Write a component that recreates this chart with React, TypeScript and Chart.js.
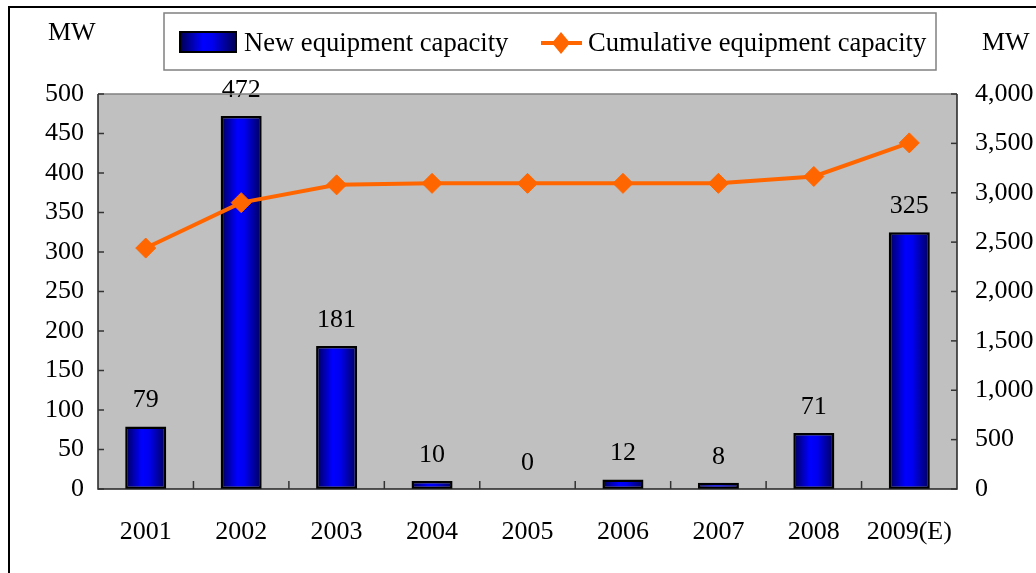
import React, { useEffect, useRef } from "react";
import { Chart, registerables } from "chart.js";

Chart.register(...registerables);

const categories = ["2001", "2002", "2003", "2004", "2005", "2006", "2007", "2008", "2009(E)"];
const newCapacity = [79, 472, 181, 10, 0, 12, 8, 71, 325];
const cumulativeCapacity = [2440, 2900, 3080, 3095, 3095, 3095, 3095, 3165, 3505];
const leftTicks = [0, 50, 100, 150, 200, 250, 300, 350, 400, 450, 500];
const rightTicks = [0, 500, 1000, 1500, 2000, 2500, 3000, 3500, 4000];
const seriesNames = ["New equipment capacity", "Cumulative equipment capacity"];
const unitLabel = "MW";

const FONT = "'Liberation Serif', 'Times New Roman', serif";
const TICK_SIZE = 26;
const W = 1036;
const H = 573;
const AREA = { left: 98, right: 957, top: 94, bottom: 489 };
const BAR_FRACTION = 0.43;

function barGradient(ctx: CanvasRenderingContext2D, x0: number, x1: number) {
  const g = ctx.createLinearGradient(x0, 0, x1, 0);
  g.addColorStop(0, "#000058");
  g.addColorStop(0.4, "#0000ff");
  g.addColorStop(0.58, "#0000f0");
  g.addColorStop(1, "#00005a");
  return g;
}

const decorPlugin = {
  id: "decor",
  beforeDraw(chart: any) {
    const { ctx, chartArea } = chart;
    ctx.save();
    ctx.fillStyle = "#ffffff";
    ctx.fillRect(0, 0, W, H);
    ctx.strokeStyle = "#000000";
    ctx.lineWidth = 2;
    ctx.beginPath();
    ctx.moveTo(9, H + 5);
    ctx.lineTo(9, 7);
    ctx.lineTo(W + 5, 7);
    ctx.stroke();
    ctx.fillStyle = "#c0c0c0";
    ctx.fillRect(chartArea.left, chartArea.top, chartArea.right - chartArea.left, chartArea.bottom - chartArea.top);
    ctx.restore();
  },
  afterDraw(chart: any) {
    const { ctx, chartArea, scales } = chart;
    const { left, right, top, bottom } = chartArea;
    ctx.save();
    ctx.lineWidth = 1.5;
    ctx.strokeStyle = "#808080";
    ctx.beginPath();
    ctx.moveTo(left, top);
    ctx.lineTo(right, top);
    ctx.stroke();
    ctx.strokeStyle = "#222222";
    ctx.beginPath();
    ctx.moveTo(left, top);
    ctx.lineTo(left, bottom);
    ctx.lineTo(right, bottom);
    ctx.lineTo(right, top);
    ctx.stroke();
    ctx.strokeStyle = "#333333";
    ctx.lineWidth = 1.5;
    for (const v of leftTicks) {
      const y = scales.y.getPixelForValue(v);
      ctx.beginPath();
      ctx.moveTo(left, y);
      ctx.lineTo(left + 6, y);
      ctx.stroke();
    }
    for (const v of rightTicks) {
      const y = scales.y1.getPixelForValue(v);
      ctx.beginPath();
      ctx.moveTo(right, y);
      ctx.lineTo(right - 6, y);
      ctx.stroke();
    }
    const step = (right - left) / categories.length;
    for (let i = 1; i < categories.length; i++) {
      const x = left + step * i;
      ctx.beginPath();
      ctx.moveTo(x, bottom);
      ctx.lineTo(x, bottom - 8);
      ctx.stroke();
    }
    ctx.fillStyle = "#000000";
    ctx.font = `26px ${FONT}`;
    ctx.textAlign = "left";
    ctx.textBaseline = "middle";
    ctx.fillText(unitLabel, 48, 33);
    ctx.fillText(unitLabel, 982, 43);
    const lx = 164, ly = 13, lw = 772, lh = 57;
    ctx.fillStyle = "#ffffff";
    ctx.fillRect(lx, ly, lw, lh);
    ctx.strokeStyle = "#808080";
    ctx.lineWidth = 1.5;
    ctx.strokeRect(lx, ly, lw, lh);
    ctx.fillStyle = "#000000";
    ctx.fillRect(179, 31, 58, 22);
    ctx.fillStyle = barGradient(ctx, 181, 235);
    ctx.fillRect(181, 33, 54, 18);
    ctx.fillStyle = "#000000";
    ctx.font = `26.6px ${FONT}`;
    ctx.textBaseline = "middle";
    ctx.fillText(seriesNames[0], 244, 44);
    ctx.strokeStyle = "#ff6600";
    ctx.lineWidth = 4;
    ctx.beginPath();
    ctx.moveTo(541, 43);
    ctx.lineTo(582, 43);
    ctx.stroke();
    ctx.fillStyle = "#ff6600";
    ctx.beginPath();
    ctx.moveTo(561, 32);
    ctx.lineTo(570, 43);
    ctx.lineTo(561, 54);
    ctx.lineTo(552, 43);
    ctx.closePath();
    ctx.fill();
    ctx.fillStyle = "#000000";
    ctx.fillText(seriesNames[1], 588, 44);
    ctx.restore();
  },
  afterDatasetsDraw(chart: any) {
    const { ctx } = chart;
    const meta = chart.getDatasetMeta(0);
    ctx.save();
    ctx.fillStyle = "#000000";
    ctx.font = `${TICK_SIZE}px ${FONT}`;
    ctx.textAlign = "center";
    ctx.textBaseline = "middle";
    meta.data.forEach((el: any, i: number) => {
      ctx.fillText(String(newCapacity[i]), el.x, el.y - 26);
    });
    ctx.restore();
  },
};

export default function App() {
  const ref = useRef<HTMLCanvasElement>(null);
  useEffect(() => {
    if (!ref.current) return;
    const chart = new Chart(ref.current, {
      type: "bar",
      data: {
        labels: categories,
        datasets: [
          {
            type: "bar",
            label: seriesNames[0],
            data: newCapacity,
            yAxisID: "y",
            order: 1,
            borderColor: "#000000",
            borderWidth: 2.5,
            borderSkipped: false,
            barPercentage: BAR_FRACTION,
            categoryPercentage: 1,
            backgroundColor: (c: any) => {
              const chart = c.chart;
              const area = chart.chartArea;
              if (!area) return "#0000ff";
              const step = (area.right - area.left) / categories.length;
              const cx = area.left + step * (c.dataIndex + 0.5);
              const half = (step * BAR_FRACTION) / 2;
              return barGradient(chart.ctx, cx - half, cx + half);
            },
          } as any,
          {
            type: "line",
            label: seriesNames[1],
            data: cumulativeCapacity,
            yAxisID: "y1",
            order: 0,
            borderColor: "#ff6600",
            backgroundColor: "#ff6600",
            borderWidth: 4,
            pointStyle: "rectRot",
            pointRadius: 10,
            pointBorderWidth: 1,
            pointBackgroundColor: "#ff6600",
            pointBorderColor: "#ff6600",
            tension: 0,
          } as any,
        ],
      },
      options: {
        responsive: false,
        animation: false,
        events: [],
        layout: { padding: { top: AREA.top, left: 0, right: 0, bottom: 0 } },
        plugins: { legend: { display: false }, tooltip: { enabled: false } },
        scales: {
          x: {
            grid: { display: false, drawTicks: false },
            border: { display: false },
            ticks: { color: "#000000", font: { family: FONT, size: TICK_SIZE }, padding: 28, maxRotation: 0 },
            afterFit: (s: any) => { s.height = H - AREA.bottom; },
          },
          y: {
            position: "left",
            min: 0,
            max: 500,
            grid: { display: false, drawTicks: false },
            border: { display: false },
            afterBuildTicks: (s: any) => { s.ticks = leftTicks.map((v) => ({ value: v })); },
            ticks: { color: "#000000", font: { family: FONT, size: TICK_SIZE }, padding: 14 },
            afterFit: (s: any) => { s.width = AREA.left; },
          },
          y1: {
            position: "right",
            min: 0,
            max: 4000,
            grid: { display: false, drawTicks: false },
            border: { display: false },
            afterBuildTicks: (s: any) => { s.ticks = rightTicks.map((v) => ({ value: v })); },
            ticks: {
              color: "#000000",
              font: { family: FONT, size: TICK_SIZE },
              padding: 18,
              callback: (v: any) => Number(v).toLocaleString("en-US"),
            },
            afterFit: (s: any) => { s.width = W - AREA.right; },
          },
        },
      },
      plugins: [decorPlugin],
    });
    return () => chart.destroy();
  }, []);
  return (
    <div style={{ position: "fixed", left: 0, top: 0, width: W, height: H, background: "#fff" }}>
      <canvas ref={ref} width={W} height={H} style={{ display: "block" }} />
    </div>
  );
}
